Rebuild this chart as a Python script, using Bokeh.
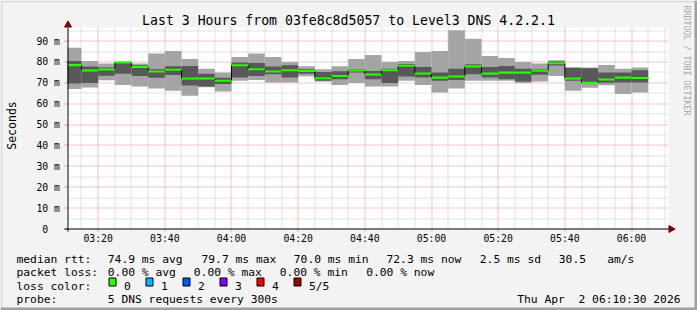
import math
from bokeh.plotting import figure
from bokeh.models import Range1d, Label, ColumnDataSource
from bokeh.core.properties import value
from bokeh.embed import file_html
from bokeh.resources import INLINE

# ---------------- data ----------------
range_start = "03:10:48"
range_minutes = 180
bar_end = ["03:15", "03:20", "03:25", "03:30", "03:35", "03:40", "03:45", "03:50", "03:55",
           "04:00", "04:05", "04:10", "04:15", "04:20", "04:25", "04:30", "04:35", "04:40",
           "04:45", "04:50", "04:55", "05:00", "05:05", "05:10", "05:15", "05:20", "05:25",
           "05:30", "05:35", "05:40", "05:45", "05:50", "05:55", "06:00", "06:05"]
rtt_max = [86.8, 80.5, 79.3, 80.2, 79.2, 84.0, 85.2, 81.4, 76.7, 74.9,
           82.4, 84.0, 82.4, 80.0, 77.9, 76.5, 77.9, 81.4, 83.3, 80.0,
           80.5, 84.8, 85.2, 95.2, 91.1, 82.9, 81.9, 80.0, 79.2, 80.8,
           77.3, 77.3, 78.6, 76.8, 77.3]
rtt_q4 = [80.5, 77.8, 77.3, 80.0, 78.4, 76.5, 77.9, 78.1, 74.4, 72.4,
          79.7, 79.5, 77.8, 78.4, 76.5, 75.2, 75.6, 76.5, 75.7, 76.7,
          79.0, 77.6, 74.9, 76.8, 78.9, 77.6, 78.1, 76.8, 76.5, 80.2,
          77.2, 77.0, 75.0, 74.9, 76.0]
rtt_med = [78.5, 75.9, 76.4, 79.7, 77.6, 75.4, 76.3, 72.1, 72.1, 71.0,
           78.4, 76.5, 75.4, 76.0, 75.7, 72.2, 73.3, 75.9, 74.0, 76.0,
           78.2, 74.5, 72.5, 73.0, 77.9, 74.4, 74.9, 74.9, 75.8, 79.4,
           72.1, 70.0, 71.6, 72.5, 72.3]
rtt_q2 = [69.7, 69.9, 73.4, 74.3, 73.3, 72.4, 73.8, 68.7, 68.2, 69.4,
          72.5, 73.3, 74.1, 72.5, 74.4, 71.0, 71.7, 75.0, 71.7, 69.9,
          73.0, 72.5, 71.0, 71.4, 74.1, 72.5, 71.7, 70.6, 73.9, 78.3,
          71.0, 69.8, 70.0, 70.2, 70.2]
rtt_min = [67.0, 67.8, 71.2, 69.0, 68.3, 67.3, 66.2, 63.8, 67.9, 65.9,
           71.0, 71.3, 70.2, 70.2, 73.2, 70.6, 69.0, 69.9, 68.3, 68.3,
           71.0, 69.0, 65.4, 67.3, 71.0, 71.0, 71.0, 69.9, 70.6, 73.3,
           66.2, 67.6, 68.9, 64.6, 65.4]
x_tick_labels = ["03:20", "03:40", "04:00", "04:20", "04:40", "05:00", "05:20", "05:40", "06:00"]
y_ticks = [0, 10, 20, 30, 40, 50, 60, 70, 80, 90]
y_tick_labels = ["0\u00a0\u00a0", "10 m", "20 m", "30 m", "40 m", "50 m", "60 m", "70 m", "80 m", "90 m"]
y_top = 96.5
loss_labels = ["0", "1", "2", "3", "4", "5/5"]
loss_colors = ["#26ff00", "#00b8ff", "#0059ff", "#7e00ff", "#ff0000", "#a00000"]
title_text = "Last 3 Hours from 03fe8c8d5057 to Level3 DNS 4.2.2.1"
y_title = "Seconds"
watermark = "RRDTOOL / TOBI OETIKER"
rtt_line = [("median rtt:", 16), ("74.9 ms avg", 107.3), ("79.7 ms max", 201), ("70.0 ms min", 293.3),
            ("72.3 ms now", 386), ("2.5 ms sd", 479.3), ("30.5", 558.3), ("am/s", 606.7)]
loss_line = [("packet loss:", 16), ("0.00 % avg", 107.3), ("0.00 % max", 193.3),
             ("0.00 % min", 279.3), ("0.00 % now", 365.7)]
probe_text = "5 DNS requests every 300s"
date_text = "Thu Apr \u00a02 06:10:30 2026"


def to_min(s):
    parts = [int(v) for v in s.split(":")]
    m = parts[0] * 60 + parts[1]
    if len(parts) > 2:
        m += parts[2] / 60.0
    return m


# ---------------- geometry ----------------
W, H = 697, 310
PL, PR, PT, PB = 67, 668, 27, 228      # plot area pixel box
AX_X, AX_Y = 67.5, 228.5               # axis line centres
X0 = to_min(range_start)
X1 = X0 + range_minutes
SX = 600.0 / range_minutes
SY = (AX_Y - PT) / y_top


def X(px):
    return X0 + (px - PL) / SX


def Y(py):
    return (AX_Y - py) / SY


def PX(x):
    return PL + (x - X0) * SX


def PY(v):
    return AX_Y - v * SY


def snapx(x):
    return X(math.floor(PX(x)) + 0.5)


def snapy(v):
    return Y(math.floor(PY(v)) + 0.5)


right = [to_min(s) for s in bar_end]
left = [max(r - 5, X0) for r in right]

p = figure(width=W, height=H, x_range=Range1d(X(0), X(W)), y_range=Range1d(Y(H), Y(0)),
           x_axis_type=None, y_axis_type=None, min_border=0, title=None,
           output_backend="svg", toolbar_location=None,
           background_fill_color="#f3f3f3", border_fill_color="#f3f3f3", outline_line_color=None)

# plot canvas
p.quad(left=[X(PL)], right=[X(PR)], bottom=[Y(PB)], top=[Y(PT)], fill_color="white", line_color=None)

# grid
x_major = [to_min(s) for s in x_tick_labels]
x_minor = [m for m in range(195, 371, 5) if m not in x_major]
y_minor = [v + 5 for v in y_ticks]
MAJ, MIN = "#ee8a8a", "#c4c4c4"
p.multi_line(xs=[[snapx(m), snapx(m)] for m in x_minor], ys=[[Y(PB), Y(PT)]] * len(x_minor),
             line_color=MIN, line_dash="1 1", line_width=1)
p.multi_line(xs=[[X(PL + 1), X(PR)]] * len(y_minor), ys=[[snapy(v), snapy(v)] for v in y_minor],
             line_color=MIN, line_dash="1 1", line_width=1)
p.multi_line(xs=[[snapx(m), snapx(m)] for m in x_major], ys=[[Y(PB), Y(PT)]] * len(x_major),
             line_color=MAJ, line_dash="1 1", line_width=1)
p.multi_line(xs=[[X(PL + 1), X(PR)]] * (len(y_ticks) - 1),
             ys=[[snapy(v), snapy(v)] for v in y_ticks[1:]],
             line_color=MAJ, line_dash="1 1", line_width=1)

# smoke
src = ColumnDataSource(dict(
    left=left, right=right, mx=rtt_max, q4=rtt_q4, md=rtt_med, q2=rtt_q2, mn=rtt_min,
    gtop=[m + 0.5 for m in rtt_med], gbot=[m - 0.5 for m in rtt_med]))
p.quad(left="left", right="right", bottom="mn", top="mx", source=src,
       fill_color="#a4a4a4", line_color=None)
p.quad(left="left", right="right", bottom="q2", top="q4", source=src,
       fill_color="#585858", line_color=None)
p.step(x=left + [right[-1]], y=rtt_med + [rtt_med[-1]], mode="after",
       line_color="#000000", line_width=1)
p.quad(left="left", right="right", bottom="gbot", top="gtop", source=src,
       fill_color=loss_colors[0], line_color=None)

# tick marks outside the axes
p.multi_line(xs=[[X(64), X(67)]] * len(y_ticks), ys=[[snapy(v), snapy(v)] for v in y_ticks],
             line_color=MAJ, line_width=1)
p.multi_line(xs=[[snapx(m), snapx(m)] for m in x_major], ys=[[Y(229), Y(231)]] * len(x_major),
             line_color=MAJ, line_width=1)

# axes lines and arrows
p.line(x=[X(AX_X), X(AX_X)], y=[Y(231), Y(PT)], line_color="black", line_width=1)
p.line(x=[X(64), X(669)], y=[Y(AX_Y), Y(AX_Y)], line_color="black", line_width=1)
p.scatter(x=[X(AX_X)], y=[Y(24.5)], marker="triangle", size=7,
          fill_color="#7f0000", line_color="#7f0000")
p.scatter(x=[X(670.5)], y=[Y(AX_Y)], marker="triangle", size=7, angle=-math.pi / 2,
          fill_color="#7f0000", line_color="#7f0000")

# tick labels
MONO = "DejaVu Sans Mono"
p.text(x=[X(59.5)] * len(y_ticks), y=y_ticks, text=y_tick_labels, text_font=value(MONO),
       text_font_size="9.8px", text_align="right", text_baseline="middle", text_color="black")
p.text(x=x_major, y=[Y(238)] * len(x_major), text=x_tick_labels, text_font=value(MONO),
       text_font_size="9.8px", text_align="center", text_baseline="middle", text_color="black")


def lab(px, py, text, size="11.3px", align="left", baseline="alphabetic", angle=0.0,
        color="black"):
    p.add_layout(Label(x=X(px), y=Y(py), text=text, text_font=MONO,
                       text_font_size=size, text_align=align, text_baseline=baseline,
                       angle=angle, text_color=color))


lab(348, 19.5, title_text, size="13.2px", align="center", baseline="middle")
lab(11, 125, y_title, size="11.5px", align="center", baseline="middle", angle=math.pi / 2)
lab(686.5, 5, watermark, size="8.3px", align="left", baseline="middle",
    angle=-math.pi / 2, color="#a8a8a8")

for t, x in rtt_line:
    lab(x, 258.5, t)
for t, x in loss_line:
    lab(x, 272, t)
lab(16, 285.5, "loss color:")
for i, (t, c) in enumerate(zip(loss_labels, loss_colors)):
    bx = 108.5 + i * 37.0
    p.quad(left=[X(bx)], right=[X(bx + 7)], top=[Y(277.5)], bottom=[Y(285.5)],
           fill_color=c, line_color="black", line_width=1)
    lab(bx + 15, 285.5, t)
lab(16, 299, "probe:")
lab(107.3, 299, probe_text)
lab(680, 299, date_text, align="right")

# image frame shading
for (l, r, t, b, c) in [(0, W, 0, 2, "#dcdcdc"), (0, 2, 0, H, "#dcdcdc"),
                        (W - 3, W, 0, H, "#a0a0a0"), (0, W, H - 3, H, "#a0a0a0")]:
    p.quad(left=[X(l)], right=[X(r)], top=[Y(t)], bottom=[Y(b)], fill_color=c, line_color=None)

open("out.html", "w").write(file_html(p, INLINE))
